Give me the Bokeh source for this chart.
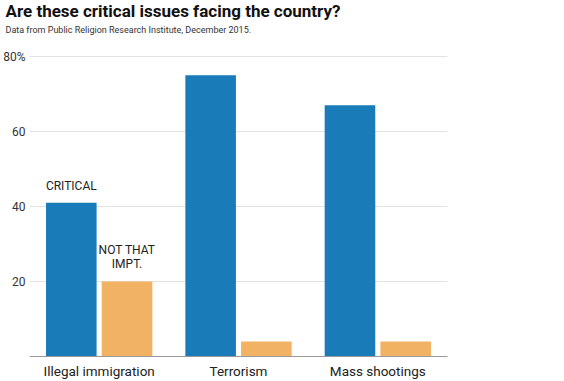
from bokeh.plotting import figure
from bokeh.models import ColumnDataSource, FactorRange, Range1d, Title, FixedTicker, CustomJSTickFormatter
from bokeh.transform import dodge
from bokeh.core.properties import value
from bokeh.embed import file_html
from bokeh.resources import INLINE

categories = ["Illegal immigration", "Terrorism", "Mass shootings"]
critical = [41, 75, 67]
not_that_impt = [20, 4, 4]
y_ticks = [20, 40, 60, 80]

BLUE = "#1a7bb9"
ORANGE = "#f2b263"
FONT = "Roboto"

src = ColumnDataSource(dict(cat=categories, critical=critical, nti=not_that_impt))

# frame top sits under the two titles; the 80 line lands ~22px below it
p = figure(width=548, height=381, output_backend="svg", toolbar_location=None,
           x_range=FactorRange(*categories, range_padding=0), y_range=Range1d(0, 85.87),
           min_border_left=25, min_border_right=101, min_border_top=0, min_border_bottom=24,
           outline_line_color=None, background_fill_color="white", border_fill_color="white")

p.vbar(x=dodge("cat", -0.2, range=p.x_range), top="critical", width=0.363, source=src,
       fill_color=BLUE, line_color=None)
p.vbar(x=dodge("cat", 0.2, range=p.x_range), top="nti", width=0.363, source=src,
       fill_color=ORANGE, line_color=None)

crit_src = ColumnDataSource(dict(cat=[categories[0]], y=[critical[0]], txt=["CRITICAL"]))
nti_src = ColumnDataSource(dict(cat=[categories[0]], y=[not_that_impt[0]], txt=["NOT THAT\nIMPT."]))
p.text(x=dodge("cat", -0.2, range=p.x_range), y="y", text="txt", source=crit_src,
       y_offset=-10, text_align="center", text_baseline="bottom",
       text_font=value(FONT), text_font_size="12px", text_color="#222222")
p.text(x=dodge("cat", 0.2, range=p.x_range), y="y", text="txt", source=nti_src,
       y_offset=-10, text_align="center", text_baseline="bottom",
       text_font=value(FONT), text_font_size="12px", text_color="#222222", text_line_height=1.05)

p.xaxis.axis_line_color = "#999999"
p.xaxis.major_tick_line_color = None
p.xaxis.minor_tick_line_color = None
p.xaxis.major_tick_out = 0
p.xaxis.major_tick_in = 0
p.xaxis.minor_tick_out = 0
p.xaxis.major_label_text_font = FONT
p.xaxis.major_label_text_font_size = "13.5px"
p.xaxis.major_label_text_color = "#222222"
p.xaxis.major_label_standoff = 6

p.yaxis.ticker = FixedTicker(ticks=y_ticks)
p.yaxis.formatter = CustomJSTickFormatter(code="return tick == 80 ? tick + '%' : '' + tick;")
p.yaxis.axis_line_color = None
p.yaxis.major_tick_line_color = None
p.yaxis.minor_tick_line_color = None
p.yaxis.major_tick_out = 0
p.yaxis.major_tick_in = 0
p.yaxis.minor_tick_out = 0
p.yaxis.major_label_text_font = FONT
p.yaxis.major_label_text_font_size = "12px"
p.yaxis.major_label_text_color = "#333333"
p.yaxis.major_label_standoff = 4

p.xgrid.grid_line_color = None
p.ygrid.grid_line_color = "#e2e2e2"
p.ygrid.grid_line_width = 1

p.title.visible = False
p.add_layout(Title(text="Data from Public Religion Research Institute, December 2015.",
                   text_font=FONT, text_font_size="9px", text_font_style="normal",
                   text_color="#333333", align="left", offset=-24, standoff=0), "above")
p.add_layout(Title(text="Are these critical issues facing the country?",
                   text_font=FONT, text_font_style="bold", text_font_size="17px",
                   text_color="#111111", align="left", vertical_align="top",
                   offset=-24, standoff=0), "above")

open("out.html", "w").write(file_html(p, INLINE))
